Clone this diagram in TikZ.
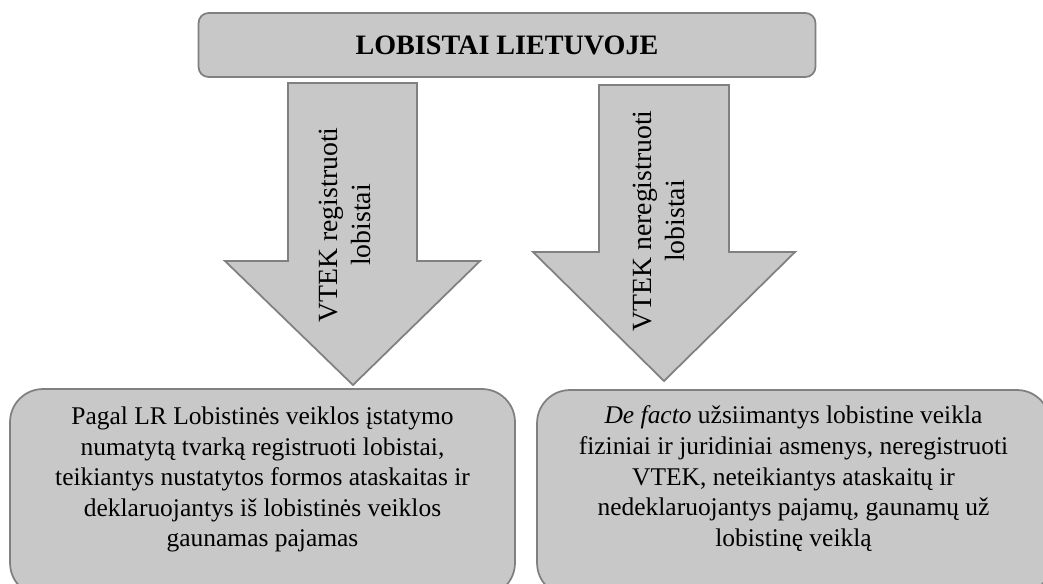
\documentclass[tikz,border=0pt]{standalone}
\usepackage{fontspec}
\setmainfont{Liberation Serif}
\usepackage{tikz}
\usetikzlibrary{positioning}
\definecolor{boxgray}{HTML}{C8C8C8}
\definecolor{edgegray}{HTML}{808080}

\begin{document}
\begin{tikzpicture}[x=0.02cm,y=-0.02cm,line width=1pt,
  box node/.style={draw=edgegray,fill=boxgray,inner sep=0pt},
  arrow body/.style={draw=edgegray,fill=boxgray,line join=miter},
  arrow label/.style={rotate=90,align=center,inner sep=0pt,font=\fontsize{15.8}{18.8}\selectfont},
  box text/.style={align=center,inner sep=0pt,font=\fontsize{14.5}{17.4}\selectfont}]
      \useasboundingbox (0,0) rectangle (1043,583);
      \clip (0,0) rectangle (1043,583);

      \node [box node, rounded corners=0.2cm, minimum width=12.34cm, minimum height=1.28cm,
             font=\fontsize{16}{18}\selectfont\bfseries] (title) at (507,45) {LOBISTAI LIETUVOJE};

      % arrows
      \draw[arrow body] (288,83) -- (417,83) -- (417,261) -- (480,261) -- (353,385)
                        -- (225,261) -- (288,261) -- cycle;
      \draw[arrow body] (599,85) -- (729,85) -- (729,252) -- (795,252) -- (664,381)
                        -- (533,252) -- (599,252) -- cycle;
      \node [arrow label] (reg) at (345,225) {VTEK registruoti\\lobistai};
      \node [arrow label] (nereg) at (659,221) {VTEK neregistruoti\\lobistai};

      \node [box node, rounded corners=0.66cm, minimum width=10.1cm, minimum height=4.14cm] (left) at (262.5,492.5) {};
      \node [box node, rounded corners=0.66cm, minimum width=10.26cm, minimum height=4.12cm] (right) at (793.5,493) {};

      \node [box text, below=0.36cm of left.north] (lefttext) {Pagal LR Lobistinės veiklos įstatymo\\
        numatytą tvarką registruoti lobistai,\\
        teikiantys nustatytos formos ataskaitas ir\\
        deklaruojantys iš lobistinės veiklos\\
        gaunamas pajamas};
      \node [box text, below=0.32cm of right.north] (righttext) {\textit{De facto} užsiimantys lobistine veikla\\
        fiziniai ir juridiniai asmenys, neregistruoti\\
        VTEK, neteikiantys ataskaitų ir\\
        nedeklaruojantys pajamų, gaunamų už\\
        lobistinę veiklą};

    \end{tikzpicture}
\end{document}
